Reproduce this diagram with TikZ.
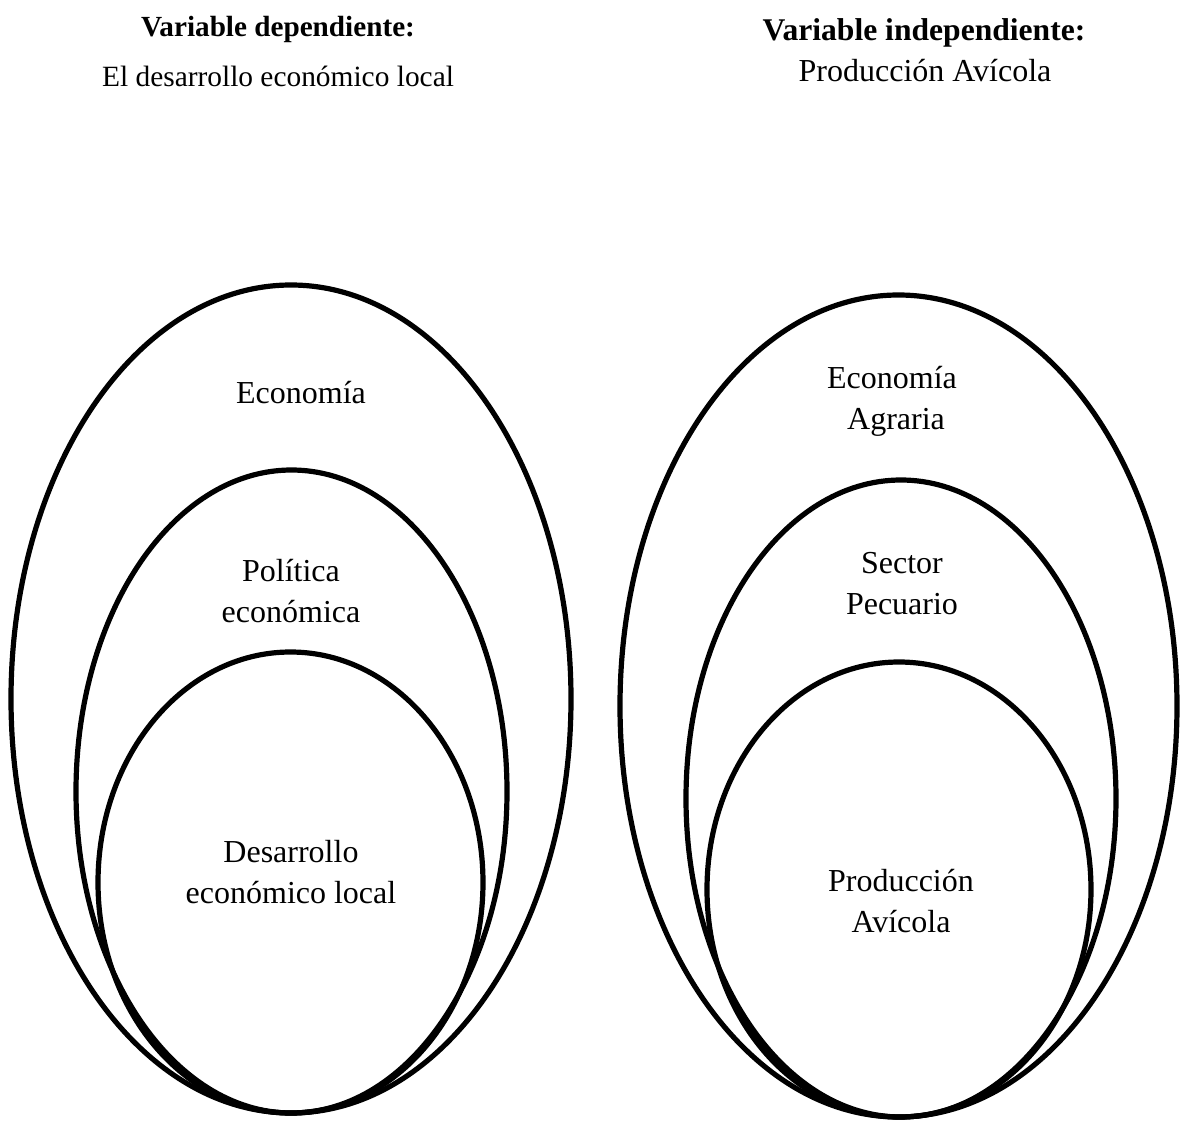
\documentclass[tikz,border=0pt]{standalone}
\usepackage{fontspec}
\setmainfont{Liberation Serif}
\begin{document}
\begin{tikzpicture}[x=0.5pt,y=-0.5pt,
  ring/.style={draw=black,line width=2.6pt},
  lbl/.style={align=center,inner sep=0pt,font=\fontsize{16}{20.5}\selectfont},
  ttl/.style={anchor=base,inner sep=0pt}]
\useasboundingbox (0,0) rectangle (1180,1124);
% titles
\node[ttl,font=\bfseries\fontsize{14.6}{17}\selectfont] (t1) at (278,37) {Variable dependiente:};
\node[ttl,font=\fontsize{14.7}{17}\selectfont] (s1) at (278,86) {El desarrollo económico local};
\node[ttl,font=\bfseries\fontsize{15.8}{19}\selectfont] (t2) at (924,40) {Variable independiente:};
\node[ttl,font=\fontsize{16}{19}\selectfont] (s2) at (925,82) {Producción Avícola};
% left ellipses
\draw[ring] (291,699) ellipse [x radius=140pt, y radius=207pt];
\draw[ring] (291.5,791.5) ellipse [x radius=107.75pt, y radius=160.75pt];
\draw[ring] (290.5,882.5) ellipse [x radius=96.25pt, y radius=115.25pt];
% right ellipses
\draw[ring] (898.5,706) ellipse [x radius=139.25pt, y radius=205.5pt];
\draw[ring] (901,798.5) ellipse [x radius=107.5pt, y radius=159.25pt];
\draw[ring] (899,889.5) ellipse [x radius=96pt, y radius=113.75pt];
% labels
\node[lbl] (l1) at (301,393) {Economía};
\node[lbl] (l2) at (291,591) {Política\\económica};
\node[lbl] (l3) at (291,872) {Desarrollo\\económico local};
\node[lbl] (r1) at (892,401) {Economía\\\ Agraria};
\node[lbl] (r2) at (902,584) {Sector\\Pecuario};
\node[lbl] (r3) at (901,901) {Producción\\Avícola};
\end{tikzpicture}
\end{document}
